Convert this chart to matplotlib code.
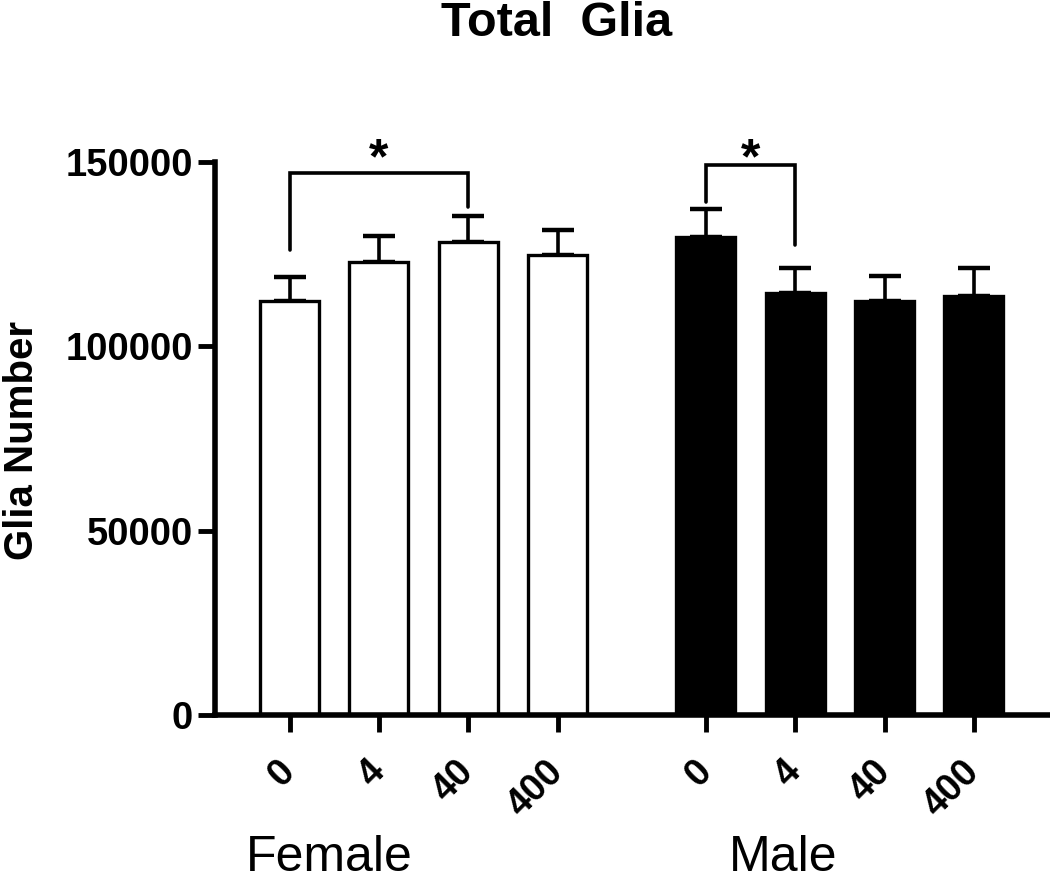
import numpy as np
import matplotlib
matplotlib.use("Agg")
import matplotlib.pyplot as plt
import matplotlib.transforms as mtransforms

plt.rcParams['font.family'] = ['Liberation Sans', 'DejaVu Sans']

# data
doses = ['0', '4', '40', '400']
female_mean = [112300, 122900, 128200, 124800]
female_sem = [6500, 7000, 7100, 6700]
male_mean = [129600, 114600, 112200, 113700]
male_sem = [7600, 6700, 6800, 7500]

# significance brackets: (bar a, bar b, top y, leg a bottom, leg b bottom)
female_bracket = (0, 2, 147100, 126100, 137900)
male_bracket = (0, 1, 149200, 139200, 127500)

# bar positions
female_x = np.arange(4)
male_x = np.arange(4) + 4.66
width = 0.66

fig = plt.figure(figsize=(10.5, 8.8), dpi=100)
ax = fig.add_axes([215/1050, 1-715/880, (1048-215)/1050, (715-162)/880])

ax.bar(female_x, female_mean, width, color='white', edgecolor='black', linewidth=2.4, zorder=2)
ax.bar(male_x, male_mean, width, color='black', edgecolor='black', linewidth=2.4, zorder=2)
ax.errorbar(female_x, female_mean, yerr=[np.zeros(4), female_sem], fmt='none',
            ecolor='black', elinewidth=2.6, capsize=11.5, capthick=3.2, zorder=1)
ax.errorbar(male_x, male_mean, yerr=[np.zeros(4), male_sem], fmt='none',
            ecolor='black', elinewidth=2.6, capsize=11.5, capthick=3.2, zorder=1)

def bracket(xs, b):
    a, c, top, ya, yc = b
    x1, x2 = xs[a], xs[c]
    ax.plot([x1, x1, x2, x2], [ya, top, top, yc], color='black', lw=2.6,
            solid_capstyle='round', solid_joinstyle='miter', clip_on=False)
    ax.text((x1 + x2) / 2, 146800, '*', ha='center', va='baseline',
            fontsize=36, fontweight='bold', clip_on=False)

bracket(female_x, female_bracket)
bracket(male_x, male_bracket)

ax.set_xlim(-0.834, 8.49)
ax.set_ylim(0, 150000)
ax.set_yticks([0, 50000, 100000, 150000])
ax.set_yticklabels(['0', '50000', '100000', '150000'])
ax.set_xticks(list(female_x) + list(male_x))
ax.set_xticklabels(doses + doses)

for s in ['top', 'right']:
    ax.spines[s].set_visible(False)
for s in ['left', 'bottom']:
    ax.spines[s].set_linewidth(4)

ax.tick_params(axis='y', direction='out', length=12, width=3.5, pad=4, labelsize=27.5)
ax.tick_params(axis='x', direction='out', length=12, width=3.5, pad=25, labelsize=27)
for lab in ax.get_yticklabels():
    lab.set_fontweight('bold')
for lab in ax.get_xticklabels():
    lab.set_fontweight('bold')
    lab.set_rotation(45)
    lab.set_ha('right')
    lab.set_va('center')
    lab.set_rotation_mode('anchor')
for t in ax.xaxis.get_major_ticks():
    t.tick1line.set_solid_capstyle('round')

trans = mtransforms.blended_transform_factory(ax.transData, ax.transAxes)
ax.text(0.44, -0.283, 'Female', transform=trans, ha='center', va='baseline', fontsize=36)
ax.text(5.52, -0.283, 'Male', transform=trans, ha='center', va='baseline', fontsize=36)

fig.text(22/1050, 1-440/880, 'Glia Number', rotation=90, ha='center', va='center',
         fontsize=29, fontweight='bold')
fig.text(557/1050, 1-24/880, 'Total  Glia', ha='center', va='center',
         fontsize=35, fontweight='bold')

fig.savefig('out.png', dpi=100)
